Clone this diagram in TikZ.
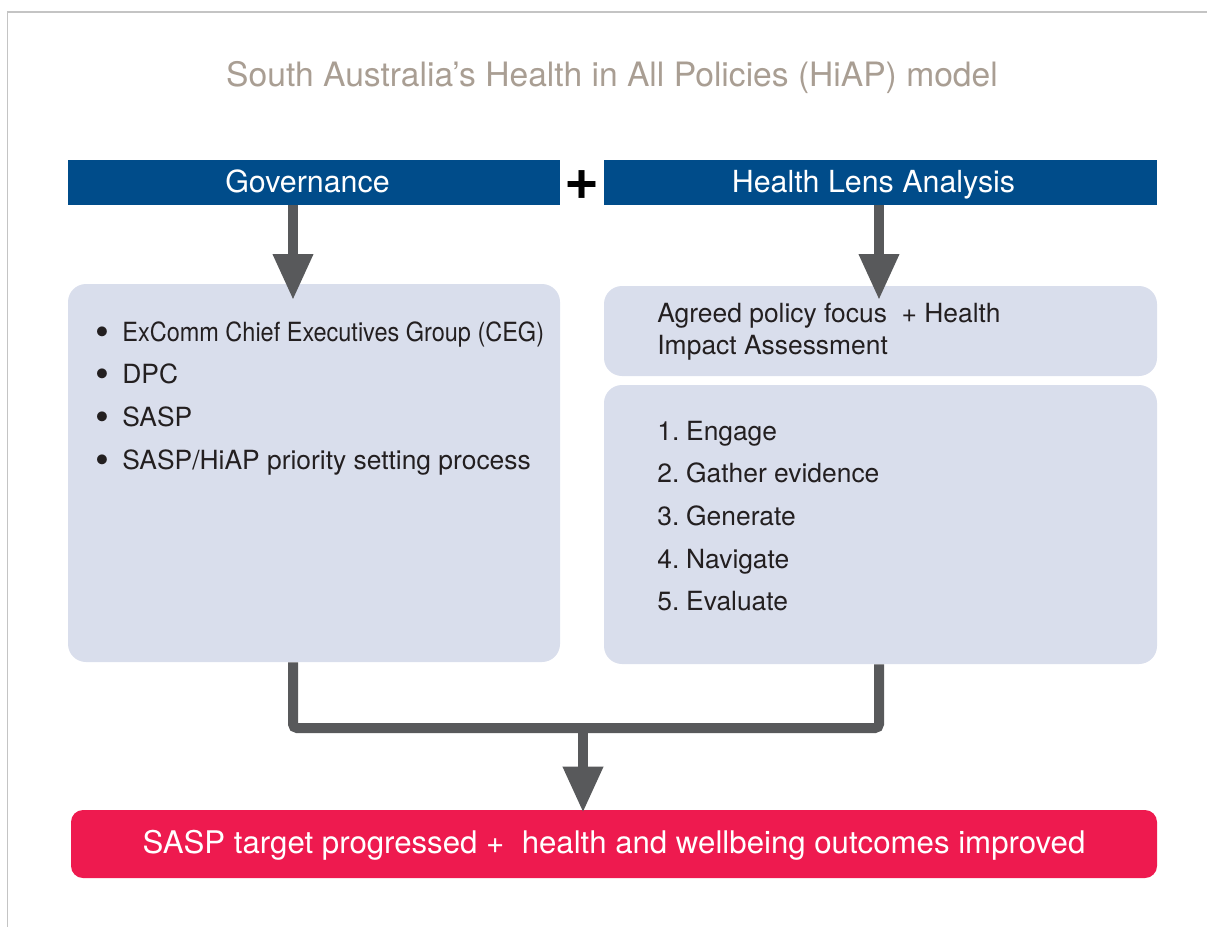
\documentclass[tikz,border=0pt]{standalone}
\usepackage{fontspec}
\setmainfont{TeX Gyre Heros}
\usepackage{graphicx}
\usetikzlibrary{arrows.meta}

\definecolor{hiapblue}{HTML}{004C8A}
\definecolor{hiapbox}{HTML}{D9DEEC}
\definecolor{hiapgrey}{HTML}{58595B}
\definecolor{hiapred}{HTML}{EE1A4F}
\definecolor{hiaptitle}{HTML}{A99E93}
\definecolor{hiapframe}{HTML}{C4C4C4}
\definecolor{hiaptext}{HTML}{231F20}

\newcommand{\hiapdot}{\makebox[13.5pt][l]{\raisebox{-2pt}{\scalebox{1.5}{\textbullet}}}}

\tikzset{
  headbar/.style={fill=hiapblue, minimum height=22.5pt, inner sep=0pt},
  bartext/.style={text=white, font=\fontsize{15.2}{18}\selectfont, anchor=base, inner sep=0pt},
  panel/.style={fill=hiapbox, rounded corners=9pt, inner sep=0pt},
  listtext/.style={text=hiaptext, font=\fontsize{13.2}{16}\selectfont, anchor=base west, inner sep=0pt},
  flowarrow/.style={draw=hiapgrey, line width=5pt, -{Triangle[width=19pt,length=23pt]}},
  joinline/.style={draw=hiapgrey, line width=5pt, rounded corners=2pt},
}

\begin{document}
\begin{tikzpicture}[x=0.5pt,y=-0.5pt]
\useasboundingbox (0,0) rectangle (1207,927);
% frame
\draw[hiapframe, line width=0.6pt] (1207,12) -- (7.5,12) -- (7.5,927);

\node[text=hiaptitle, font=\fontsize{16.8}{20}\selectfont, anchor=base, inner sep=0pt] (title) at (612,86) {South Australia’s Health in All Policies (HiAP) model};

% header bars
\node[headbar, minimum width=246pt] (govbar) at (314,182.5) {};
\node[headbar, minimum width=276.5pt] (hlabar) at (880.5,182.5) {};
\node[bartext] (govtext) at (307.5,192) {Governance};
\node[bartext] (hlatext) at (873.5,192) {Health Lens Analysis};
\node[font=\fontsize{30}{30}\selectfont\bfseries, anchor=base, inner sep=0pt] (plus) at (582.5,199) {+};

% panels
\node[panel, minimum width=246pt, minimum height=189pt] (govbox) at (314,473) {};
\node[panel, minimum width=276.5pt, minimum height=45pt] (hlafocus) at (880.5,331) {};
\node[panel, minimum width=276.5pt, minimum height=139.5pt] (hlasteps) at (880.5,524.5) {};

\foreach \entry [count=\i from 0] in {{\scalebox{0.89}[1]{ExComm Chief Executives Group (CEG)}}, DPC, SASP, {SASP/HiAP priority setting process}}
  \node[listtext] (gov\i) at (95,341+42.7*\i) {\hiapdot\entry};

\node[listtext] (focus1) at (657,322) {Agreed policy focus\ \ + Health};
\node[listtext] (focus2) at (657,354) {Impact Assessment};

\foreach \entry [count=\i from 0] in {1.\kern-1.5pt{} Engage, 2.\kern-1.5pt{} Gather evidence, 3.\kern-1.5pt{} Generate, 4.\kern-1.5pt{} Navigate, 5.\kern-1.5pt{} Evaluate}
  \node[listtext] (step\i) at (657,440+42.7*\i) {\entry};

% outcome
\node[fill=hiapred, rounded corners=6pt, minimum width=543pt, minimum height=34pt, inner sep=0pt] (outcome) at (614,844) {};
\node[text=white, font=\fontsize{15.6}{18}\selectfont, anchor=base, inner sep=0pt] (outtext) at (614,853) {SASP target progressed +\ \ health and wellbeing outcomes improved};

% arrows
\coordinate (govin) at (293,300);
\coordinate (hlain) at (879,300);
\coordinate (joint) at (583,728);
\draw[flowarrow] (govbar.south -| govin) -- (govin);
\draw[flowarrow] (hlabar.south -| hlain) -- (hlain);
\draw[joinline] (govbox.south -| govin) -- (govin |- joint) -- (hlain |- joint) -- (hlasteps.south -| hlain);
\draw[flowarrow] (joint) -- ([yshift=-1.5pt]joint |- outcome.north);
\end{tikzpicture}
\end{document}
